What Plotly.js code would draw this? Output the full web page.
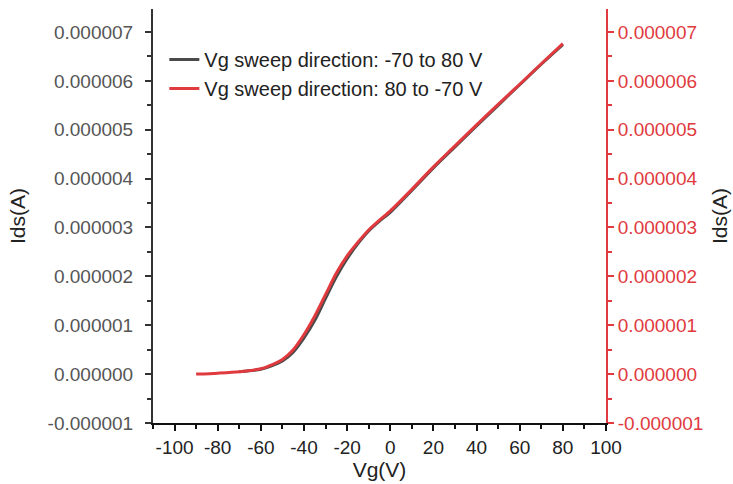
<!DOCTYPE html>
<html><head><meta charset="utf-8">
<script src="https://cdn.plot.ly/plotly-3.0.1.min.js"></script>
<style>body{margin:0;background:#fff}#c{width:733px;height:484px}</style>
</head><body><div id="c"></div>
<script>
// Vg (V)
const vgUp = [-70,-60,-55,-50,-45,-40,-35,-30,-25,-20,-15,-10,-5,0,10,20,30,40,50,60,70,80];
// Ids (A), sweep -70 -> 80 V
const idsUp = [0.05e-6,0.10e-6,0.17e-6,0.27e-6,0.45e-6,0.74e-6,1.10e-6,1.55e-6,1.99e-6,2.36e-6,2.67e-6,2.93e-6,3.13e-6,3.31e-6,3.76e-6,4.22e-6,4.65e-6,5.08e-6,5.50e-6,5.92e-6,6.34e-6,6.74e-6];
const vgDown = [80,70,60,50,40,30,20,10,0,-5,-10,-15,-20,-25,-30,-35,-40,-45,-50,-55,-60,-70,-80,-90];
// Ids (A), sweep 80 -> -70 V
const idsDown = [6.76e-6,6.35e-6,5.93e-6,5.52e-6,5.10e-6,4.67e-6,4.24e-6,3.78e-6,3.34e-6,3.15e-6,2.95e-6,2.70e-6,2.42e-6,2.07e-6,1.63e-6,1.19e-6,0.81e-6,0.50e-6,0.30e-6,0.19e-6,0.11e-6,0.05e-6,0.02e-6,0.0];
const names = ['Vg sweep direction: -70 to 80 V','Vg sweep direction: 80 to -70 V'];
const xTicks = [-100,-80,-60,-40,-20,0,20,40,60,80,100];
const yTicks = [-1e-6,0,1e-6,2e-6,3e-6,4e-6,5e-6,6e-6,7e-6];
const yTickText = ['-0.000001','0.000000','0.000001','0.000002','0.000003','0.000004','0.000005','0.000006','0.000007'];

const RED = '#e03a3e';
const font = 'Liberation Sans, Arial, sans-serif';
const traces = [
  {x: vgUp, y: idsUp, name: names[0], mode:'lines', line:{color:'#4a4a4a', width:3, shape:'spline', smoothing:0.8}, xaxis:'x', yaxis:'y'},
  {x: vgDown, y: idsDown, name: names[1], mode:'lines', line:{color:RED, width:3, shape:'spline', smoothing:0.8}, xaxis:'x', yaxis:'y2'}
];
const yrange = [-1e-6, 7.47e-6];
const xrange = [-110, 100];
const xMinor = [-110,-90,-70,-50,-30,-10,10,30,50,70,90];
const layout = {
  width:733, height:484,
  margin:{l:153, r:127, t:9, b:61},
  paper_bgcolor:'#fff', plot_bgcolor:'#fff',
  font:{family:font, size:19, color:'#333'},
  showlegend:true,
  legend:{x:0.025, y:0.925, xanchor:'left', yanchor:'top', bgcolor:'rgba(0,0,0,0)', font:{size:20, color:'#222'}, tracegroupgap:0},
  xaxis:{range:xrange, tickvals:xTicks, ticktext:xTicks.map(String), showgrid:false, zeroline:false,
    showline:true, linecolor:'#111', linewidth:2, ticks:'outside', ticklen:6, tickwidth:2, tickcolor:'#111',
    minor:{tickvals:xMinor, ticks:'outside', ticklen:4, tickwidth:2, tickcolor:'#111'},
    tickfont:{size:19, color:'#222'},
    title:{text:'Vg(V)', font:{size:21, color:'#222'}, standoff:0}},
  xaxis2:{range:xrange, overlaying:'x', side:'top', anchor:'y', showticklabels:false, showgrid:false, zeroline:false,
    showline:true, linecolor:'#111', linewidth:2, tickvals:xTicks, ticks:'inside', ticklen:6, tickwidth:2, tickcolor:'#111',
    minor:{tickvals:xMinor, ticks:'inside', ticklen:4, tickwidth:2, tickcolor:'#111'}},
  yaxis:{range:yrange, tickvals:yTicks, ticktext:yTickText, showgrid:false, zeroline:false,
    showline:true, linecolor:'#333', linewidth:2, ticks:'outside', ticklen:6, tickwidth:2, tickcolor:'#333',
    minor:{dtick:0.5e-6, ticks:'outside', ticklen:4, tickwidth:2, tickcolor:'#333'},
    tickfont:{size:19, color:'#555'}, ticklabelstandoff:8,
    title:{text:'Ids(A)', font:{size:21, color:'#222'}, standoff:16}},
  yaxis2:{range:yrange, overlaying:'y', side:'right', anchor:'x', tickvals:yTicks, ticktext:yTickText, showgrid:false, zeroline:false,
    showline:true, linecolor:RED, linewidth:2, ticks:'outside', ticklen:6, tickwidth:2, tickcolor:RED,
    minor:{dtick:0.5e-6, ticks:'outside', ticklen:4, tickwidth:2, tickcolor:RED},
    tickfont:{size:19, color:RED},
    title:{text:'Ids(A)', font:{size:21, color:'#222'}, standoff:10}}
};
Plotly.newPlot('c', traces, layout, {displayModeBar:false, staticPlot:true});
</script></body></html>
